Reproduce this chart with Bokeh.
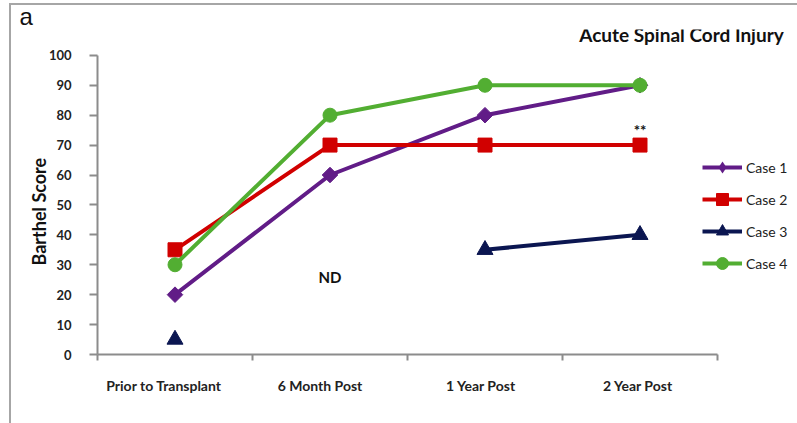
from bokeh.plotting import figure
from bokeh.models import (Range1d, FixedTicker, Legend, LegendItem, Label, Title, ColumnDataSource)
from bokeh.embed import file_html
from bokeh.resources import INLINE
import numpy as np

# ---- data ----
categories = ["Prior to Transplant", "6 Month Post", "1 Year Post", "2 Year Post"]
case1 = [20, 60, 80, 90]
case2 = [35, 70, 70, 70]
case3 = [5, np.nan, 35, 40]
case4 = [30, 80, 90, 90]
y_ticks = [0, 10, 20, 30, 40, 50, 60, 70, 80, 90, 100]
nd_note = ("ND", 1, 26)       # (text, category index, value)
sig_note = ("**", 3, 75)

# name, values, colour, plot marker, size, angle, legend marker
series = [
    ("Case 1", case1, "#611C87", "square", 11, np.pi / 4, "diamond"),
    ("Case 2", case2, "#D10000", "square", 14, 0, None),
    ("Case 3", case3, "#0B1651", "triangle", 16, 0, None),
    ("Case 4", case4, "#52AE32", "circle", 14, 0, None),
]

FONT = "Lato"
W, H = 797, 423
FRAME_L, FRAME_T, FRAME_B = 97, 27, 354
PX_PER_CAT = 155.0
PX_PER_UNIT = 3.01
label_shift_px = [-11, -10, -4, -2]   # tick-label nudges seen in the original

xc = [i + 0.5 for i in range(len(categories))]
x_end = (W - FRAME_L) / PX_PER_CAT
y_end = (FRAME_B - FRAME_T) / PX_PER_UNIT

p = figure(width=W, height=H, output_backend="svg", toolbar_location=None,
           x_range=Range1d(0, x_end), y_range=Range1d(0, y_end),
           min_border_left=FRAME_L, min_border_right=0, min_border_top=FRAME_T,
           min_border_bottom=H - FRAME_B)
p.outline_line_color = None
p.xgrid.visible = False
p.ygrid.visible = False
p.border_fill_color = None
p.background_fill_color = None
p.styles = {"background": "linear-gradient(#a6a6a6, #a6a6a6) 9px 3px / 2px 430px no-repeat, "
                          "linear-gradient(#a6a6a6, #a6a6a6) 9px 3px / 800px 2px no-repeat, #ffffff"}

axis_color = "#8c8c8c"
# x axis
label_pos = [x + s / PX_PER_CAT for x, s in zip(xc, label_shift_px)]
xa = p.xaxis[0]
xa.bounds = (0, len(categories))
xa.ticker = FixedTicker(ticks=label_pos, minor_ticks=list(range(len(categories) + 1)))
xa.major_label_overrides = {x: c for x, c in zip(label_pos, categories)}
xa.major_tick_line_color = None
xa.major_tick_out = 0
xa.major_tick_in = 0
xa.minor_tick_line_color = axis_color
xa.minor_tick_line_width = 2
xa.minor_tick_out = 6
xa.minor_tick_in = 0
xa.axis_line_color = axis_color
xa.axis_line_width = 2
xa.major_label_standoff = 16
xa.major_label_text_font = FONT
xa.major_label_text_font_style = "bold"
xa.major_label_text_font_size = "14px"
xa.major_label_text_color = "#222222"

# y axis
ya = p.yaxis[0]
ya.bounds = (0, 100)
ya.ticker = FixedTicker(ticks=y_ticks)
ya.minor_tick_line_color = None
ya.major_tick_line_color = axis_color
ya.major_tick_line_width = 2
ya.major_tick_out = 8
ya.major_tick_in = 0
ya.axis_line_color = axis_color
ya.axis_line_width = 2
ya.major_label_standoff = 18
ya.major_label_text_font = FONT
ya.major_label_text_font_style = "bold"
ya.major_label_text_font_size = "13px"
ya.major_label_text_color = "#222222"
# trailing no-break spaces shift the centred label down to the 0-100 span
ya.axis_label = "Barthel Score" + "\u00a0" * 9
ya.axis_label_text_font = FONT
ya.axis_label_text_font_style = "bold"
ya.axis_label_text_font_size = "18px"
ya.axis_label_text_color = "#111111"
ya.axis_label_standoff = -4

items = []
for name, vals, color, marker, size, ang, leg_marker in series:
    src = ColumnDataSource(dict(x=xc, y=vals))
    ln = p.line("x", "y", source=src, line_color=color, line_width=4)
    sc = p.scatter("x", "y", source=src, marker=marker, size=size, angle=ang,
                   fill_color=color, line_color=color)
    if leg_marker is not None:
        # zero-size proxy on the same points: invisible in the plot, but the
        # legend key draws it at legend size with the diamond shape
        proxy = p.scatter("x", "y", source=src, marker=leg_marker, size=0,
                          fill_color=color, line_color=None)
        items.append(LegendItem(label=name, renderers=[ln, proxy]))
    else:
        items.append(LegendItem(label=name, renderers=[ln, sc]))

legend = Legend(items=items, location=(605, 76), border_line_color=None,
                background_fill_alpha=0, padding=0, margin=0,
                glyph_width=40, glyph_height=30, label_height=30, spacing=2,
                label_standoff=4, label_text_font=FONT, label_text_font_size="14px",
                label_text_color="#222222")
p.add_layout(legend, "center")

for txt, ci, val in (nd_note, sig_note):
    p.add_layout(Label(x=xc[ci], y=val, text=txt, text_align="center", text_baseline="middle",
                       text_font=FONT, text_font_style="bold", text_font_size="15px",
                       text_color="#111111"))

# main title inside the (extended) frame, in screen px from frame bottom-left
p.add_layout(Label(x=681 - FRAME_L, y=FRAME_B - 34, x_units="screen", y_units="screen",
                   text="Acute Spinal Cord Injury", text_align="center", text_baseline="middle",
                   text_font=FONT, text_font_style="bold", text_font_size="19px",
                   text_color="#111111"))

# panel letter "a" above the frame, left of the axis
p.add_layout(Title(text="a", align="left", offset=-78, standoff=0,
                   text_font="Liberation Sans", text_font_style="normal",
                   text_font_size="24px", text_color="#111111"), "above")

open("out.html", "w").write(file_html(p, INLINE))
